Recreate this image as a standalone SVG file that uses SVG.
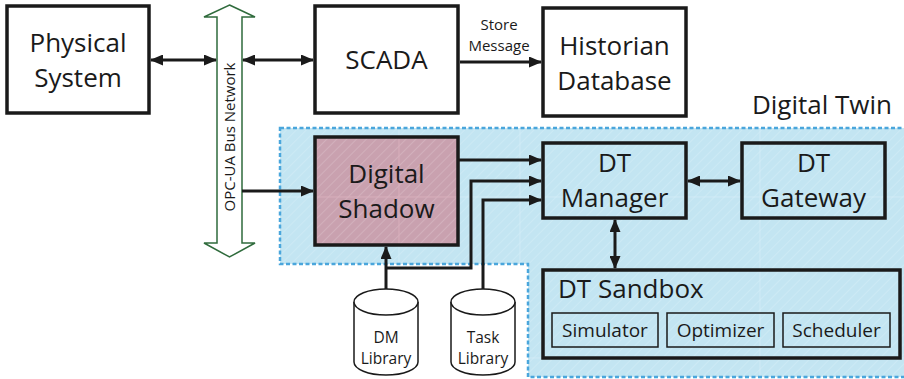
<svg xmlns="http://www.w3.org/2000/svg" width="904" height="379" viewBox="0 0 904 379">
  <defs>
    <pattern id="hatch" width="7" height="7" patternUnits="userSpaceOnUse" patternTransform="rotate(45)">
      <line x1="0" y1="0" x2="0" y2="7" stroke="#ffffff" stroke-opacity="0.4" stroke-width="0.8"/>
    </pattern>
    <marker id="ah" viewBox="0 0 13 11" refX="12" refY="5.5" markerWidth="13" markerHeight="11" markerUnits="userSpaceOnUse" orient="auto-start-reverse">
      <path d="M0,0 L13,5.5 L0,11 Z" fill="#1a1a1a"/>
    </marker>
    <clipPath id="regionClip">
      <path d="M280,128 H910 V377 H528 V264 H280 Z"/>
    </clipPath>
  </defs>
  <style>
    .box { fill: #ffffff; stroke: #1a1a1a; stroke-width: 3.5; }
    .tbox { fill: none; stroke: #1a1a1a; stroke-width: 3.5; }
    .sub { fill: none; stroke: #1a1a1a; stroke-width: 1.5; }
    .lbl { font-family: "Open Sans", "Liberation Sans", sans-serif; fill: #1a1a1a; text-anchor: middle; }
    .big { font-size: 26px; }
    .mid { font-size: 19px; }
    .sm { font-size: 15.5px; }
    .xs { font-size: 15px; }
    .conn { fill: none; stroke: #1a1a1a; stroke-width: 3; }
    .cyl { fill: #ffffff; stroke: #1a1a1a; stroke-width: 1.5; }
  </style>

  <!-- Digital Twin region -->
  <g id="digital-twin">
    <path d="M280,128 H910 V377 H528 V264 H280 Z" fill="#c3e5f2"/>
    <path d="M280,128 H910 V377 H528 V264 H280 Z" fill="url(#hatch)"/>
    <g clip-path="url(#regionClip)" stroke="#d6eef8" stroke-width="1" opacity="0.7">
      <line x1="399" y1="128" x2="399" y2="377"/>
      <line x1="520" y1="128" x2="520" y2="377"/>
      <line x1="760" y1="128" x2="760" y2="377"/>
      <line x1="280" y1="197" x2="904" y2="197"/>
      <line x1="280" y1="358" x2="904" y2="358"/>
    </g>
    <path d="M280,128 H910 V377 H528 V264 H280 Z" fill="none" stroke="#4aa6dc" stroke-width="2.5" stroke-dasharray="4 2.5"/>
    <text class="lbl big" x="892" y="114" style="text-anchor:end">Digital Twin</text>
  </g>

  <!-- OPC-UA Bus -->
  <g id="opc-bus">
    <path d="M229.5,5 L255,17 L242,17 L242,243 L255,243 L229.5,257 L204,243 L217,243 L217,17 L204,17 Z" fill="#ffffff" stroke="#2f6b3c" stroke-width="1.5"/>
    <text class="lbl xs" transform="translate(235,137) rotate(-90)" x="0" y="0">OPC-UA Bus Network</text>
  </g>

  <g id="physical-system">
    <rect class="box" x="7" y="6" width="142" height="107"/>
    <text class="lbl big" x="78" y="52">Physical</text>
    <text class="lbl big" x="78" y="87">System</text>
  </g>

  <g id="scada">
    <rect class="box" x="315" y="6" width="143" height="107"/>
    <text class="lbl big" x="386.5" y="69">SCADA</text>
  </g>

  <g id="historian">
    <rect class="box" x="543" y="8" width="143" height="108"/>
    <text class="lbl big" x="614.5" y="55">Historian</text>
    <text class="lbl big" x="614.5" y="90">Database</text>
  </g>

  <g id="digital-shadow">
    <rect x="315" y="137" width="143" height="108" fill="#c9a1af"/>
    <rect x="315" y="137" width="143" height="108" fill="url(#hatch)"/>
    <line x1="399" y1="137" x2="399" y2="245" stroke="#d8aebb" stroke-width="1"/>
    <line x1="315" y1="197" x2="458" y2="197" stroke="#d8aebb" stroke-width="1"/>
    <rect class="tbox" x="315" y="137" width="143" height="108"/>
    <text class="lbl big" x="386.5" y="183">Digital</text>
    <text class="lbl big" x="386.5" y="218">Shadow</text>
  </g>

  <g id="dt-manager">
    <rect class="tbox" x="543" y="143" width="143" height="75"/>
    <text class="lbl big" x="614.5" y="172">DT</text>
    <text class="lbl big" x="614.5" y="207">Manager</text>
  </g>

  <g id="dt-gateway">
    <rect class="tbox" x="742" y="143" width="143" height="75"/>
    <text class="lbl big" x="813.5" y="172">DT</text>
    <text class="lbl big" x="813.5" y="207">Gateway</text>
  </g>

  <g id="dt-sandbox">
    <rect class="tbox" x="543" y="270" width="357" height="88"/>
    <text class="lbl big" x="558" y="298" style="text-anchor:start">DT Sandbox</text>
    <rect class="sub" x="552" y="313" width="106" height="34"/>
    <text class="lbl mid" x="605" y="337">Simulator</text>
    <rect class="sub" x="667" y="313" width="107" height="34"/>
    <text class="lbl mid" x="720.5" y="337">Optimizer</text>
    <rect class="sub" x="783" y="313" width="107" height="34"/>
    <text class="lbl mid" x="836.5" y="337">Scheduler</text>
  </g>

  <g id="dm-library">
    <path class="cyl" d="M354,302 A32,13 0 0 1 418,302 V362 A32,13 0 0 1 354,362 Z"/>
    <path class="cyl" d="M354,302 A32,13 0 0 0 418,302" fill="none"/>
    <text class="lbl sm" x="386" y="343">DM</text>
    <text class="lbl sm" x="386" y="364">Library</text>
  </g>

  <g id="task-library">
    <path class="cyl" d="M451,302 A32,13 0 0 1 515,302 V362 A32,13 0 0 1 451,362 Z"/>
    <path class="cyl" d="M451,302 A32,13 0 0 0 515,302" fill="none"/>
    <text class="lbl sm" x="483" y="343">Task</text>
    <text class="lbl sm" x="483" y="364">Library</text>
  </g>

  <!-- Connectors -->
  <g id="connectors">
    <line class="conn" x1="151" y1="60" x2="216" y2="60" marker-start="url(#ah)" marker-end="url(#ah)"/>
    <line class="conn" x1="243" y1="60" x2="313" y2="60" marker-start="url(#ah)" marker-end="url(#ah)"/>
    <line class="conn" x1="460" y1="62" x2="541" y2="62" marker-end="url(#ah)"/>
    <text class="lbl xs" x="499" y="30">Store</text>
    <text class="lbl xs" x="499" y="51">Message</text>
    <line class="conn" x1="242" y1="191" x2="313" y2="191" marker-end="url(#ah)"/>
    <line class="conn" x1="458" y1="160" x2="541" y2="160" marker-end="url(#ah)"/>
    <line class="conn" x1="386" y1="289" x2="386" y2="247" marker-end="url(#ah)"/>
    <polyline class="conn" points="386,268 471,268 471,181 541,181" marker-end="url(#ah)"/>
    <polyline class="conn" points="483,289 483,200 541,200" marker-end="url(#ah)"/>
    <line class="conn" x1="688" y1="181" x2="740" y2="181" marker-start="url(#ah)" marker-end="url(#ah)"/>
    <line class="conn" x1="615" y1="220" x2="615" y2="268" marker-start="url(#ah)" marker-end="url(#ah)"/>
  </g>
</svg>
